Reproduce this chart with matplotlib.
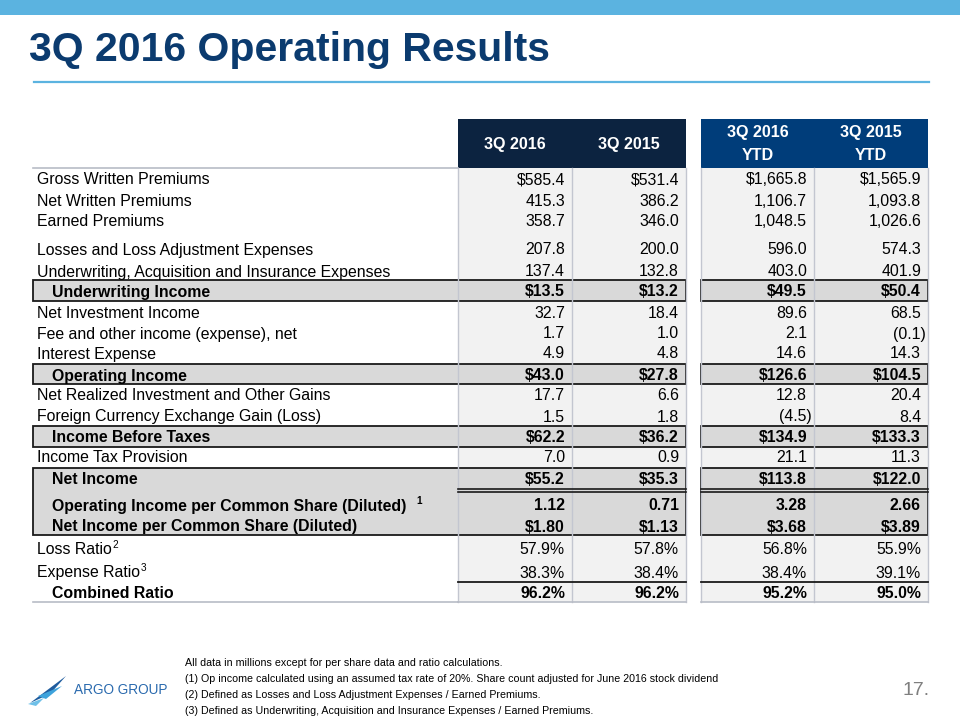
import matplotlib.pyplot as plt
from matplotlib.patches import Rectangle, Polygon

# ----- data ----- #
row_labels = ["Gross Written Premiums", "Net Written Premiums", "Earned Premiums",
              "Losses and Loss Adjustment Expenses",
              "Underwriting, Acquisition and Insurance Expenses",
              "Underwriting Income", "Net Investment Income",
              "Fee and other income (expense), net", "Interest Expense",
              "Operating Income", "Net Realized Investment and Other Gains",
              "Foreign Currency Exchange Gain (Loss)", "Income Before Taxes",
              "Income Tax Provision", "Net Income",
              "Operating Income per Common Share (Diluted)",
              "Net Income per Common Share (Diluted)",
              "Loss Ratio", "Expense Ratio", "Combined Ratio"]
col_headers = ["3Q 2016", "3Q 2015", "3Q 2016\nYTD", "3Q 2015\nYTD"]

q3_2016 = [585.4, 415.3, 358.7, 207.8, 137.4, 13.5, 32.7, 1.7, 4.9, 43.0,
           17.7, 1.5, 62.2, 7.0, 55.2, 1.12, 1.80, 57.9, 38.3, 96.2]
q3_2015 = [531.4, 386.2, 346.0, 200.0, 132.8, 13.2, 18.4, 1.0, 4.8, 27.8,
           6.6, 1.8, 36.2, 0.9, 35.3, 0.71, 1.13, 57.8, 38.4, 96.2]
ytd_2016 = [1665.8, 1106.7, 1048.5, 596.0, 403.0, 49.5, 89.6, 2.1, 14.6, 126.6,
            12.8, -4.5, 134.9, 21.1, 113.8, 3.28, 3.68, 56.8, 38.4, 95.2]
ytd_2015 = [1565.9, 1093.8, 1026.6, 574.3, 401.9, 50.4, 68.5, -0.1, 14.3, 104.5,
            20.4, 8.4, 133.3, 11.3, 122.0, 2.66, 3.89, 55.9, 39.1, 95.0]
# number format per row: $ prefix, eps (2 decimals), % suffix
row_kind = ["$", "", "", "", "", "$", "", "", "", "$",
            "", "", "$", "", "$", "eps", "$eps", "%", "%", "%"]
bold_rows = [5, 9, 12, 14, 15, 16, 19]
footmarks = {15: "1", 17: "2", 18: "3"}

footnotes = ["All data in millions except for per share data and ratio calculations.",
             "(1) Op income calculated using an assumed tax rate of 20%. Share count adjusted for June 2016 stock dividend",
             "(2) Defined as Losses and Loss Adjustment Expenses / Earned Premiums.",
             "(3) Defined as Underwriting, Acquisition and Insurance Expenses / Earned Premiums."]


def fmt(v, kind):
    s = f"{abs(v):,.2f}" if "eps" in kind else f"{abs(v):,.1f}"
    if kind.startswith("$"):
        s = "$" + s
    if kind == "%":
        s += "%"
    if v < 0:
        s = "(" + s + ")"
    return s


plt.rcParams['font.family'] = ['Liberation Sans', 'DejaVu Sans']
fig = plt.figure(figsize=(9.6, 7.2), dpi=100)
ax = fig.add_axes([0, 0, 1, 1])
ax.set_xlim(0, 960)
ax.set_ylim(720, 0)
ax.axis("off")
renderer = fig.canvas.get_renderer()

light_blue = "#5bb3e0"
navy = "#0c2340"
blue = "#003d7a"
FS = 11.4
base = 5.5  # baseline offset from row centre

# banner + title
ax.add_patch(Rectangle((0, 0), 960, 15, color=light_blue, lw=0))
ax.text(29, 61, "3Q 2016 Operating Results", fontsize=29.5, fontweight="bold",
        color="#0b3b6f", va="baseline", ha="left")
ax.plot([34, 929], [82, 82], color=light_blue, lw=1.6)

# table layout
col_left = [458, 572, 701, 814]
col_w = [114, 114, 113, 114]
groups = [(458, 686), (701, 928)]
head_top, head_bot, tab_bot = 119, 168, 602
row_y = [179, 200, 221, 249, 271, 291, 312, 333, 353, 375,
         395, 416, 437, 457, 479, 505, 526, 549, 572, 593]
bands = [(280, 301), (364, 384), (426, 447), (468, 535)]

for i in range(4):
    ax.add_patch(Rectangle((col_left[i], head_top), col_w[i], head_bot - head_top,
                           color=navy if i < 2 else blue, lw=0))
    ax.add_patch(Rectangle((col_left[i], head_bot), col_w[i], tab_bot - head_bot,
                           color="#f2f2f2", lw=0))
    lines = col_headers[i].split("\n")
    ys = [143] if len(lines) == 1 else [132, 155]
    for t, yy in zip(lines, ys):
        ax.text(col_left[i] + col_w[i] / 2, yy + base, t, color="white",
                fontsize=11.6, fontweight="bold", ha="center", va="baseline")

# grey bands
for top, bot in bands:
    for x0, x1 in [(33, 686), (701, 928)]:
        ax.add_patch(Rectangle((x0, top), x1 - x0, bot - top,
                               facecolor="#d9d9d9", edgecolor="none"))

# column separators
for x in [458, 572, 686, 701, 814, 928]:
    ax.plot([x, x], [head_bot, tab_bot], color="#c3c6d0", lw=1)

# black frames
for top, bot in bands:
    for x0, x1 in [(33, 686), (701, 928)]:
        ax.add_patch(Rectangle((x0, top), x1 - x0, bot - top, facecolor="none",
                               edgecolor="#1a1a1a", lw=1.3))
for x0, x1 in groups:
    ax.plot([x0, x1], [488.5, 488.5], color="#1a1a1a", lw=1.2)
    ax.plot([x0, x1], [491.5, 491.5], color="#1a1a1a", lw=1.2)
    ax.plot([x0, x1], [582, 582], color="#1a1a1a", lw=1.3)
    ax.plot([x0, x1], [tab_bot, tab_bot], color="#b8bcc6", lw=1.2)
ax.plot([33, 458], [head_bot, head_bot], color="#b8bcc6", lw=1.2)
ax.plot([33, 458], [tab_bot, tab_bot], color="#b8bcc6", lw=1.2)

# row labels and values
columns = [q3_2016, q3_2015, ytd_2016, ytd_2015]
inv = ax.transData.inverted()
for r, label in enumerate(row_labels):
    y = row_y[r]
    bold = r in bold_rows
    fw = "bold" if bold else "normal"
    t = ax.text(52 if bold else 37, y + base, label, fontsize=FS, fontweight=fw,
                ha="left", va="baseline", color="black")
    if r in footmarks:
        bb = t.get_window_extent(renderer=renderer)
        xend = inv.transform((bb.x1, 0))[0]
        gap = 10 if r == 15 else 0.5
        ax.text(xend + gap, y - 1, footmarks[r], fontsize=7.2, fontweight=fw,
                ha="left", va="baseline")
    for i, col in enumerate(columns):
        v = col[r]
        xr = col_left[i] + col_w[i] - 7
        if v < 0:
            xr += 5
        ax.text(xr, y + base, fmt(v, row_kind[r]), fontsize=FS, fontweight=fw,
                ha="right", va="baseline", color="black")

# logo
ax.add_patch(Polygon([[30, 703], [66, 676], [50, 694]], closed=True,
                     color="#1f5c9e", lw=0))
ax.add_patch(Polygon([[38, 696], [62, 686], [46, 699]], closed=True,
                     color="#3ea3dc", lw=0))
ax.add_patch(Polygon([[28, 704], [44, 698], [36, 706]], closed=True,
                     color="#6fc0e8", lw=0))
ax.text(74, 690, "ARGO GROUP", fontsize=9.8, color="#2a6aae", ha="left",
        va="center")

# footnotes
for k, line in enumerate(footnotes):
    ax.text(185, 666 + 16 * k, line, fontsize=7.7, color="black", ha="left",
            va="baseline")

ax.text(930, 695, "17.", fontsize=14, color="#7f7f7f", ha="right", va="baseline")

fig.savefig("out.png", dpi=100)
